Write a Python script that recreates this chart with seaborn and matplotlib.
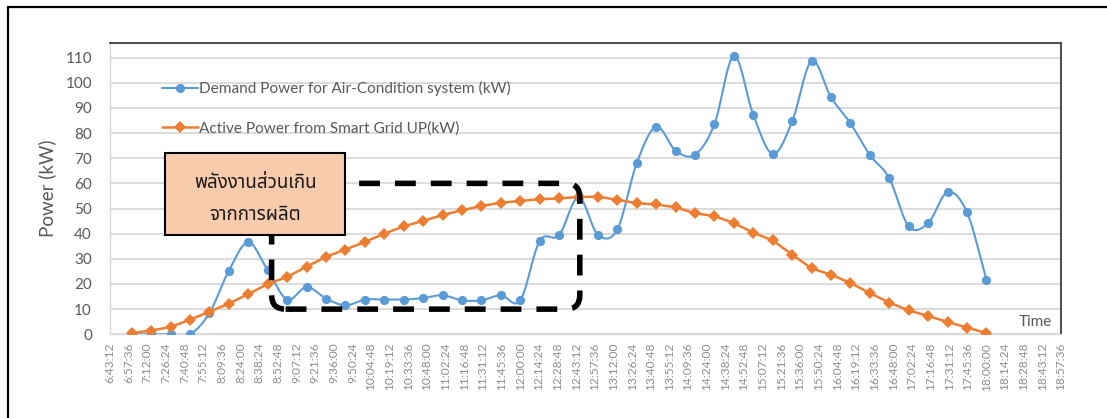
import numpy as np
import pandas as pd
import matplotlib
matplotlib.use("Agg")
import matplotlib.pyplot as plt
from matplotlib import font_manager
from matplotlib.ft2font import FT2Font
from matplotlib.lines import Line2D
from matplotlib.patches import Rectangle, FancyBboxPatch
import seaborn as sns

# ---------------------------------------------------------------- data
# 15-minute samples from 7:00 to 18:00 (minutes after midnight)
sample_minutes = list(range(7 * 60, 18 * 60 + 1, 15))

demand_kw = [0, 0, 0, 0, 8.5,
             25.3, 36.6, 25.4, 13.8, 18.8,
             14.2, 11.5, 13.8, 13.8, 13.8,
             14.4, 15.5, 13.5, 13.5, 15.5,
             13.5, 37.1, 39.4, 54.5, 39.6,
             41.7, 68.1, 82.5, 73.0, 71.4,
             83.6, 110.7, 87.2, 71.7, 84.6,
             108.7, 94.2, 83.9, 71.3, 62.0,
             42.9, 44.2, 56.5, 48.5, 21.7]

grid_kw = [0.5, 1.5, 2.9, 5.8, 9.0,
           12.2, 16.0, 20.0, 22.8, 26.9,
           30.8, 33.7, 36.7, 40.0, 42.9,
           45.1, 47.4, 49.3, 51.0, 52.3,
           53.0, 53.7, 54.0, 54.6, 54.7,
           53.5, 52.1, 51.6, 50.5, 48.1,
           47.0, 44.2, 40.4, 37.3, 31.7,
           26.2, 23.7, 20.4, 16.4, 12.6,
           9.5, 7.3, 4.9, 2.7, 0.5]

series_names = ["Demand Power for Air-Condition system (kW)",
                "Active Power from Smart Grid UP(kW)"]

# time axis: 6:43:12 to 18:57:36 in steps of 14.4 minutes
axis_start_min = 6 * 60 + 43.2
axis_step_min = 14.4
axis_tick_count = 52
y_ticks = list(range(0, 111, 10))

note_lines = ["พลังงานส่วนเกิน", "จากการผลิต"]

BLUE = "#5B9BD5"
ORANGE = "#ED7D31"
TEXT_GREY = "#595959"
TICK_GREY = "#8C8C8C"
GRID_GREY = "#D9D9D9"


def find_thai_font():
    preferred = ["Noto Sans Thai", "Noto Sans Thai UI", "Noto Sans Thai Looped",
                 "Sarabun", "Tahoma", "Leelawadee UI", "Loma", "Garuda", "Waree",
                 "Norasi", "Kinnari", "Tlwg Typo", "Umpush", "Sawasdee",
                 "Laksaman", "FreeSans", "Noto Serif Thai"]
    names = {f.name for f in font_manager.fontManager.ttflist}
    for p in preferred:
        if p in names:
            return p
    for f in font_manager.fontManager.ttflist:
        try:
            cmap = FT2Font(f.fname).get_charmap()
        except Exception:
            continue
        if 0x0E1E in cmap and 0x0E07 in cmap and 0x0E25 in cmap:
            return f.name
    return None


def catmull_rom(x, y, n=24):
    pts = np.column_stack([x, y]).astype(float)
    P = np.vstack([2 * pts[0] - pts[1], pts, 2 * pts[-1] - pts[-2]])
    t = np.linspace(0, 1, n, endpoint=False)[:, None]
    out = []
    for i in range(1, len(P) - 2):
        p0, p1, p2, p3 = P[i - 1], P[i], P[i + 1], P[i + 2]
        seg = 0.5 * (2 * p1 + (-p0 + p2) * t
                     + (2 * p0 - 5 * p1 + 4 * p2 - p3) * t ** 2
                     + (-p0 + 3 * p1 - 3 * p2 + p3) * t ** 3)
        out.append(seg)
    out.append(P[-2][None, :])
    return np.vstack(out)


def hms(minutes):
    total = int(round(minutes * 60))
    h, rem = divmod(total, 3600)
    m, s = divmod(rem, 60)
    return f"{h}:{m:02d}:{s:02d}"


sns.set_theme(style="white")
thai_font = find_thai_font()
base_family = ["Lato", "DejaVu Sans"]
plt.rcParams["font.family"] = base_family

df = pd.DataFrame({"minute": sample_minutes,
                   "demand": demand_kw,
                   "grid": grid_kw})

fig = plt.figure(figsize=(11.07, 4.18), dpi=100)
W, H = 1107, 418
ax = fig.add_axes([110 / W, 1 - 334.3 / H, (1061 - 110) / W, (334.3 - 43) / H])

# smoothed demand curve + markers
smooth = catmull_rom(df["minute"].values, df["demand"].values)
smooth_df = pd.DataFrame({"minute": smooth[:, 0], "demand": smooth[:, 1]})
sns.lineplot(data=smooth_df, x="minute", y="demand", ax=ax, color=BLUE,
             linewidth=1.5, sort=False, zorder=3)
sns.scatterplot(data=df, x="minute", y="demand", ax=ax, color=BLUE, s=44,
                marker="o", edgecolor=BLUE, linewidth=0, zorder=4)

# grid supply line with diamond markers
sns.lineplot(data=df, x="minute", y="grid", ax=ax, color=ORANGE, linewidth=1.8,
             marker="D", markersize=6.4, markeredgewidth=0, zorder=5)

# axes
x_ticks = [axis_start_min + axis_step_min * k for k in range(axis_tick_count)]
ax.set_xlim(x_ticks[0], x_ticks[-1])
ax.set_ylim(0, 115.8)
ax.set_xticks(x_ticks)
ax.set_xticklabels([hms(v) for v in x_ticks], rotation=90, fontsize=8.6,
                   color=TICK_GREY)
ax.set_yticks(y_ticks)
ax.set_yticklabels([str(v) for v in y_ticks], fontsize=11, color=TEXT_GREY)
ax.tick_params(axis="x", length=0, pad=6)
ax.tick_params(axis="y", length=0, pad=13)
ax.set_xlabel("")
ax.set_ylabel("Power (kW)", fontsize=13.5, color=TEXT_GREY)
ax.yaxis.set_label_coords(-0.057, 0.5)

ax.yaxis.grid(True, color=GRID_GREY, linewidth=1.3)
ax.xaxis.grid(False)
ax.set_axisbelow(True)
for side in ("top", "right"):
    ax.spines[side].set_color("#3F3F3F")
    ax.spines[side].set_linewidth(1.3)
for side in ("left", "bottom"):
    ax.spines[side].set_color(GRID_GREY)
    ax.spines[side].set_linewidth(1.0)

ax.text(0.9905, 0.042, "Time", transform=ax.transAxes, ha="right",
        va="center", fontsize=11, color=TEXT_GREY)

# legend
handles = [Line2D([], [], color=BLUE, lw=1.5, marker="o", markersize=6.6,
                  markeredgewidth=0),
           Line2D([], [], color=ORANGE, lw=1.8, marker="D", markersize=6.4,
                  markeredgewidth=0)]
leg = ax.legend(handles, series_names, loc="upper left",
                bbox_to_anchor=(0.055, 0.869), frameon=False, fontsize=11.1,
                handlelength=2.3, handletextpad=0.05, labelspacing=1.62,
                borderpad=0, borderaxespad=0)
for txt in leg.get_texts():
    txt.set_color(TEXT_GREY)

# dashed region (8:48 - 12:46, 10 - 60 kW)
x_per_px = axis_step_min / ((1061 - 110) / (axis_tick_count - 1))
y_per_px = 115.8 / (334.3 - 43)
dash_box = FancyBboxPatch((528, 10), 766 - 528, 50,
                          boxstyle=f"round,pad=0,rounding_size={14 * x_per_px}",
                          mutation_aspect=y_per_px / x_per_px,
                          fill=False, edgecolor="black", linewidth=4,
                          linestyle=(0, (3.75, 2.7)), zorder=6, clip_on=False)
ax.add_patch(dash_box)

# note box
note_box = Rectangle((446, 39.5), 585 - 446, 72.1 - 39.5, facecolor="#F8CBAD",
                     edgecolor="black", linewidth=1.5, zorder=7, clip_on=False)
ax.add_patch(note_box)
note_family = [thai_font] + base_family if thai_font else base_family
ax.text((446 + 585) / 2, 60.2, note_lines[0], ha="center", va="center",
        fontsize=13.5, color="#1A1A1A", family=note_family, zorder=8)
ax.text((446 + 585) / 2, 47.4, note_lines[1], ha="center", va="center",
        fontsize=13.5, color="#1A1A1A", family=note_family, zorder=8)

# outer frame (left and top edges)
fig.add_artist(Line2D([8 / W, 8 / W], [0, 1 - 7 / H], color="black", lw=1.6,
                      transform=fig.transFigure))
fig.add_artist(Line2D([8 / W, 1], [1 - 7 / H, 1 - 7 / H], color="black", lw=1.6,
                      transform=fig.transFigure))

fig.savefig("out.png", dpi=100)
